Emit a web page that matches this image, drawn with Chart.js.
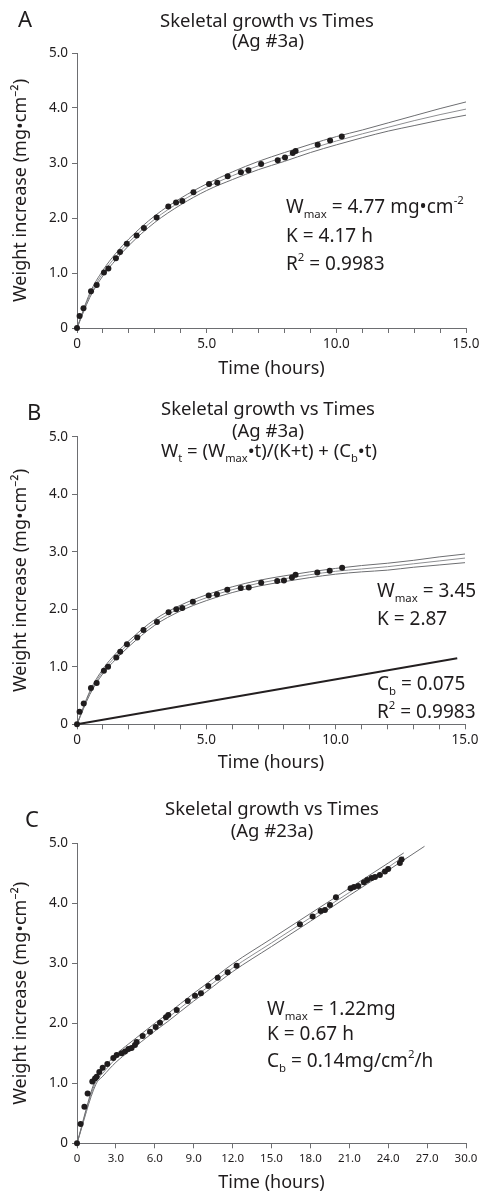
<!DOCTYPE html>
<html><head><meta charset="utf-8">
<script src="https://cdn.jsdelivr.net/npm/chart.js@4.4.1/dist/chart.umd.min.js"></script>
<style>
html,body{margin:0;padding:0;background:#fff}
body{width:483px;height:1195px;position:relative;overflow:hidden;font-family:'Noto Sans',sans-serif;color:#1f1c1d}
canvas.cv{position:absolute;left:0}
.t{position:absolute;line-height:0;white-space:nowrap}
.t sub,.t sup{font-size:0.6em;line-height:0;vertical-align:baseline;position:relative}
.t sub{top:0.5em}
.t sup{top:-0.75em}
.ctr{transform:translateX(-50%)}
</style></head><body>
<canvas id="cA" class="cv" style="top:0px" width="483" height="382"></canvas>
<canvas id="cB" class="cv" style="top:380px" width="483" height="396"></canvas>
<canvas id="cC" class="cv" style="top:776px" width="483" height="419"></canvas>
<script>
// ---------- tick labels ----------
const yTickValues = [0, 1, 2, 3, 4, 5];
const yTickLabels = ['0', '1.0', '2.0', '3.0', '4.0', '5.0'];
const xTickValuesAB = [0, 1, 2, 3, 4, 5, 6, 7, 8, 9, 10, 11, 12, 13, 14, 15];
const xTickLabelsAB = ['0', '', '', '', '', '5.0', '', '', '', '', '10.0', '', '', '', '', '15.0'];
const xTickValuesC = [0, 3, 6, 9, 12, 15, 18, 21, 24, 27, 30];
const xTickLabelsC = ['0', '3.0', '6.0', '9.0', '12.0', '15.0', '18.0', '21.0', '24.0', '27.0', '30.0'];

// ---------- panel A (Ag #3a) ----------
const timeA = [0, 0.1, 0.25, 0.54, 0.76, 1.04, 1.21, 1.50, 1.66, 1.92, 2.30, 2.58, 3.07, 3.52, 3.82, 4.06, 4.49, 5.09, 5.41, 5.81, 6.32, 6.61, 7.10, 7.74, 8.02, 8.32, 8.43, 9.28, 9.76, 10.21];
const weightA = [0, 0.22, 0.36, 0.67, 0.78, 1.01, 1.08, 1.27, 1.38, 1.53, 1.68, 1.82, 2.01, 2.21, 2.28, 2.31, 2.47, 2.62, 2.64, 2.76, 2.83, 2.87, 2.98, 3.05, 3.10, 3.18, 3.22, 3.33, 3.41, 3.48];
const fitTimeA = [0, 0.5, 1, 1.5, 2, 3, 4, 5, 6, 7, 8, 9, 10, 11, 12, 13, 14, 15];
const fitUpperA = [0, 0.64, 1.05, 1.36, 1.62, 2.04, 2.36, 2.62, 2.84, 3.03, 3.19, 3.34, 3.48, 3.60, 3.73, 3.86, 3.99, 4.11];
const fitMidA   = [0, 0.60, 1.00, 1.30, 1.56, 1.98, 2.30, 2.56, 2.77, 2.95, 3.11, 3.26, 3.40, 3.53, 3.65, 3.77, 3.88, 3.98];
const fitLowerA = [0, 0.56, 0.95, 1.24, 1.50, 1.92, 2.24, 2.50, 2.70, 2.88, 3.03, 3.19, 3.33, 3.46, 3.58, 3.68, 3.78, 3.87];

// ---------- panel B (Ag #3a, with linear term) ----------
const timeB = [0, 0.1, 0.26, 0.54, 0.76, 1.04, 1.20, 1.52, 1.67, 1.93, 2.33, 2.57, 3.09, 3.54, 3.84, 4.07, 4.48, 5.09, 5.41, 5.81, 6.33, 6.64, 7.12, 7.74, 8.00, 8.31, 8.45, 9.29, 9.77, 10.25];
const weightB = [0, 0.22, 0.36, 0.63, 0.72, 0.93, 1.00, 1.16, 1.26, 1.39, 1.51, 1.64, 1.78, 1.95, 2.00, 2.02, 2.13, 2.24, 2.26, 2.34, 2.37, 2.38, 2.46, 2.49, 2.50, 2.55, 2.60, 2.64, 2.67, 2.72];
const fitTimeB = [0, 0.5, 1, 1.5, 2, 3, 4, 5, 6, 7, 8, 9, 10, 11, 12, 13, 14, 15];
const fitUpperB = [0, 0.58, 0.96, 1.23, 1.45, 1.82, 2.07, 2.25, 2.39, 2.50, 2.58, 2.65, 2.71, 2.76, 2.80, 2.85, 2.91, 2.96];
const fitMidB   = [0, 0.55, 0.92, 1.18, 1.40, 1.77, 2.02, 2.20, 2.34, 2.45, 2.53, 2.60, 2.66, 2.70, 2.74, 2.79, 2.84, 2.89];
const fitLowerB = [0, 0.52, 0.88, 1.13, 1.35, 1.72, 1.97, 2.15, 2.29, 2.40, 2.48, 2.55, 2.61, 2.65, 2.68, 2.73, 2.77, 2.81];
const linTimeB = [0, 14.7];
const linWeightB = [0, 1.15];

// ---------- panel C (Ag #23a) ----------
const timeC = [0, 0.28, 0.57, 0.82, 1.18, 1.39, 1.52, 1.72, 1.98, 2.34, 2.80, 3.06, 3.44, 3.70, 3.96, 4.21, 4.47, 4.60, 5.06, 5.63, 6.07, 6.40, 6.86, 7.04, 7.69, 8.54, 9.10, 9.56, 10.12, 10.85, 11.62, 12.31, 17.19, 18.17, 18.79, 19.12, 19.51, 19.97, 21.10, 21.36, 21.69, 22.13, 22.38, 22.72, 22.98, 23.36, 23.75, 24.00, 24.90, 25.03];
const weightC = [0, 0.32, 0.61, 0.83, 1.03, 1.08, 1.11, 1.19, 1.26, 1.32, 1.42, 1.47, 1.50, 1.53, 1.57, 1.59, 1.64, 1.69, 1.79, 1.86, 1.94, 2.01, 2.10, 2.14, 2.22, 2.37, 2.46, 2.50, 2.62, 2.76, 2.85, 2.96, 3.65, 3.78, 3.87, 3.89, 3.97, 4.10, 4.25, 4.27, 4.29, 4.35, 4.39, 4.42, 4.44, 4.47, 4.53, 4.57, 4.67, 4.73];
const fitUpperTimeC = [0, 1.35, 2, 3, 4, 5, 6, 7, 8, 9, 10, 12, 15, 18, 21, 24, 25.2];
const fitUpperC     = [0, 1.02, 1.23, 1.48, 1.66, 1.83, 2.00, 2.16, 2.33, 2.50, 2.66, 2.99, 3.41, 3.83, 4.25, 4.67, 4.84];
const fitMidTimeC   = [0, 1.4, 2, 3, 4, 5, 6, 7, 8, 9, 10, 12, 15, 18, 21, 24, 25.2];
const fitMidC       = [0, 1.00, 1.17, 1.41, 1.59, 1.76, 1.93, 2.09, 2.26, 2.43, 2.59, 2.92, 3.34, 3.76, 4.18, 4.60, 4.78];
const fitLowerTimeC = [0, 1.45, 2, 3, 4, 5, 6, 7, 8, 9, 10, 12, 15, 18, 21, 24, 26.8];
const fitLowerC     = [0, 0.98, 1.12, 1.35, 1.53, 1.70, 1.87, 2.03, 2.20, 2.37, 2.53, 2.86, 3.28, 3.70, 4.13, 4.55, 4.95];

// ---------- styling ----------
const AXIS = '#6d6e71', TEXT = '#1f1c1d', FIT = '#6d6e71', FITMID = '#8d8e91';
Chart.defaults.font.family = "'Noto Sans', sans-serif";
Chart.defaults.color = TEXT;

const pts = (xs, ys) => xs.map((x, i) => ({x: x, y: ys[i]}));
function pointSet(xs, ys) {
  return {data: pts(xs, ys), showLine: false, pointRadius: 3, pointBackgroundColor: TEXT, pointBorderWidth: 0, clip: false};
}
function lineSet(xs, ys, color, w) {
  return {data: pts(xs, ys), showLine: true, pointRadius: 0, borderColor: color, borderWidth: w, fill: false, cubicInterpolationMode: 'monotone', clip: false};
}

function build(id, spec) {
  const cfg = {
    type: 'scatter',
    data: {datasets: spec.datasets},
    options: {
      responsive: false, animation: false,
      layout: {padding: {top: spec.area.top, right: 483 - spec.area.right, left: 0, bottom: 0}},
      plugins: {legend: {display: false}, tooltip: {enabled: false}, title: {display: false}},
      scales: {
        x: {
          type: 'linear', min: 0, max: spec.xMax,
          afterBuildTicks: s => { s.ticks = spec.xTickValues.map(v => ({value: v})); },
          ticks: {autoSkip: false, maxRotation: 0, minRotation: 0, padding: spec.xTickPad, color: TEXT, font: {size: spec.xTickSize},
                  callback: v => { const i = spec.xTickValues.indexOf(v); return i < 0 ? '' : spec.xTickLabels[i]; }},
          grid: {drawOnChartArea: false, drawTicks: true, tickLength: 5, color: AXIS, lineWidth: 1},
          border: {display: true, color: AXIS, width: 1},
          title: {display: true, text: 'Time (hours)', color: TEXT, font: {size: 18}, padding: {top: 0, bottom: spec.xTitlePad}},
          afterFit: s => { s.height = spec.xH; }
        },
        y: {
          type: 'linear', min: 0, max: 5,
          afterBuildTicks: s => { s.ticks = yTickValues.map(v => ({value: v})); },
          ticks: {autoSkip: false, padding: 4, color: TEXT, font: {size: 13.5},
                  callback: v => { const i = yTickValues.indexOf(v); return i < 0 ? '' : yTickLabels[i]; }},
          grid: {drawOnChartArea: false, drawTicks: true, tickLength: 5, color: AXIS, lineWidth: 1},
          border: {display: true, color: AXIS, width: 1},
          title: {display: true, text: 'Weight increase (mg•cm⁻²)', color: TEXT, font: {size: 18}, padding: {top: 10, bottom: 0}},
          afterFit: s => { s.width = 77; }
        }
      }
    }
  };
  const canvas = document.getElementById(id);
  spec.xH = canvas.height - spec.area.bottom;
  const chart = new Chart(canvas, cfg);
  for (let k = 0; k < 2; k++) {
    const ca = chart.chartArea;
    const p = chart.options.layout.padding;
    const nt = p.top + (spec.area.top - ca.top);
    const nr = p.right + (ca.right - spec.area.right);
    spec.xH += ca.bottom - spec.area.bottom;
    chart.options.layout.padding = {top: nt, right: nr, left: 0, bottom: 0};
    chart.update();
  }
  return chart;
}

build('cA', {
  area: {top: 53, bottom: 328, right: 466}, xMax: 15,
  xTickValues: xTickValuesAB, xTickLabels: xTickLabelsAB, xTickSize: 13.5, xTickPad: 3, xTitlePad: 2.7,
  datasets: [pointSet(timeA, weightA), lineSet(fitTimeA, fitUpperA, FIT, 1), lineSet(fitTimeA, fitMidA, FITMID, 1), lineSet(fitTimeA, fitLowerA, FIT, 1)]
});
build('cB', {
  area: {top: 56.7, bottom: 344.3, right: 465}, xMax: 15,
  xTickValues: xTickValuesAB, xTickLabels: xTickLabelsAB, xTickSize: 13.5, xTickPad: 3, xTitlePad: 2.2,
  datasets: [pointSet(timeB, weightB), lineSet(fitTimeB, fitUpperB, FIT, 1), lineSet(fitTimeB, fitMidB, FITMID, 1), lineSet(fitTimeB, fitLowerB, FIT, 1),
             {data: pts(linTimeB, linWeightB), showLine: true, pointRadius: 0, borderColor: '#231f20', borderWidth: 2, fill: false, clip: false}]
});
build('cC', {
  area: {top: 67.3, bottom: 367.3, right: 466}, xMax: 30,
  xTickValues: xTickValuesC, xTickLabels: xTickLabelsC, xTickSize: 11.5, xTickPad: 4, xTitlePad: 1.2,
  datasets: [pointSet(timeC, weightC), lineSet(fitUpperTimeC, fitUpperC, FIT, 1), lineSet(fitMidTimeC, fitMidC, FITMID, 1), lineSet(fitLowerTimeC, fitLowerC, FIT, 1)]
});

// ---------- text overlays ----------
const ASC_MID = 0.388; // (ascent - descent)/2 for Noto Sans
function addText(html, x, baseline, size, center) {
  const d = document.createElement('div');
  d.className = 't' + (center ? ' ctr' : '');
  d.style.left = x + 'px';
  d.style.top = (baseline - ASC_MID * size) + 'px';
  d.style.fontSize = size + 'px';
  d.innerHTML = html;
  document.body.appendChild(d);
}
// panel A
addText('A', 18, 27, 22, false);
addText('Skeletal growth vs Times', 267, 27, 18.5, true);
addText('(Ag #3a)', 268, 47, 18.5, true);
addText('W<sub>max</sub> = 4.77 mg•cm<sup>-2</sup>', 286, 213, 19, false);
addText('K = 4.17 h', 286, 242, 19, false);
addText('R<sup>2</sup> = 0.9983', 286, 270, 19, false);
// panel B
addText('B', 27, 420, 22, false);
addText('Skeletal growth vs Times', 268, 415, 18.5, true);
addText('(Ag #3a)', 268, 437, 18.5, true);
addText('W<sub>t</sub> = (W<sub>max</sub>•t)/(K+t) + (C<sub>b</sub>•t)', 269, 457, 18.5, true);
addText('W<sub>max</sub> = 3.45', 377, 597, 19, false);
addText('K = 2.87', 377, 625, 19, false);
addText('C<sub>b</sub> = 0.075', 377, 690, 19, false);
addText('R<sup>2</sup> = 0.9983', 377, 718, 19, false);
// panel C
addText('C', 25, 827, 22, false);
addText('Skeletal growth vs Times', 272, 815, 18.5, true);
addText('(Ag #23a)', 272, 837, 18.5, true);
addText('W<sub>max</sub> = 1.22mg', 267, 1015, 19, false);
addText('K = 0.67 h', 267, 1040, 19, false);
addText('C<sub>b</sub> = 0.14mg/cm<sup>2</sup>/h', 267, 1067, 19, false);
</script>
</body></html>
